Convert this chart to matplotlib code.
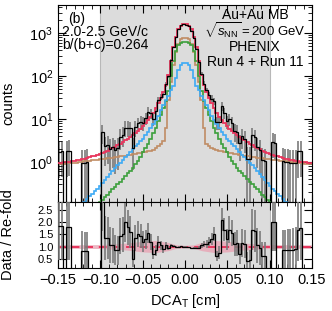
import numpy as np
import matplotlib
matplotlib.use("Agg")
import matplotlib.pyplot as plt

plt.rcParams['font.family'] = ['Liberation Sans', 'DejaVu Sans']
plt.rcParams['mathtext.fontset'] = 'custom'
plt.rcParams['mathtext.rm'] = 'Liberation Sans'
plt.rcParams['mathtext.it'] = 'Liberation Sans:italic'
plt.rcParams['mathtext.bf'] = 'Liberation Sans:bold'

# DCA_T bins: 100 bins from -0.15 to 0.15 cm
edges = np.linspace(-0.15, 0.15, 101)

# fit components (counts per bin)
green = [0.013, 0.015, 0.017, 0.019, 0.022, 0.025, 0.029, 0.033, 0.038, 0.044,
         0.05, 0.058, 0.066, 0.076, 0.087, 0.10, 0.115, 0.13, 0.15, 0.17,
         0.20, 0.23, 0.26, 0.30, 0.35, 0.40, 0.46, 0.54, 0.63, 0.74,
         0.89, 1.07, 1.32, 1.66, 2.1, 2.6, 3.4, 4.6, 6.3, 8.9,
         12.6, 17.8, 26.3, 44.7, 100, 224, 380, 520, 600, 631,
         631, 600, 520, 380, 224, 100, 44.7, 26.3, 17.8, 12.6,
         8.9, 6.3, 4.6, 3.4, 2.6, 2.1, 1.66, 1.32, 1.07, 0.89,
         0.74, 0.63, 0.54, 0.46, 0.40, 0.35, 0.30, 0.26, 0.23, 0.20,
         0.17, 0.15, 0.13, 0.115, 0.10, 0.087, 0.076, 0.066, 0.058, 0.05,
         0.044, 0.038, 0.033, 0.029, 0.025, 0.022, 0.019, 0.017, 0.015, 0.013]

blue = [0.03, 0.034, 0.039, 0.045, 0.052, 0.06, 0.069, 0.079, 0.091, 0.105,
        0.12, 0.138, 0.16, 0.18, 0.21, 0.24, 0.28, 0.32, 0.38, 0.45,
        0.52, 0.62, 0.71, 0.83, 0.95, 1.12, 1.29, 1.48, 1.74, 2.0,
        2.3, 2.6, 3.0, 3.5, 4.3, 5.1, 6.2, 7.6, 9.3, 12,
        16, 21, 28, 35, 48, 60, 89, 141, 178, 200,
        200, 178, 141, 89, 60, 48, 35, 28, 21, 16,
        12, 9.3, 7.6, 6.2, 5.1, 4.3, 3.5, 3.0, 2.6, 2.3,
        2.0, 1.74, 1.48, 1.29, 1.12, 0.95, 0.83, 0.71, 0.62, 0.52,
        0.45, 0.38, 0.32, 0.28, 0.24, 0.21, 0.18, 0.16, 0.138, 0.12,
        0.105, 0.091, 0.079, 0.069, 0.06, 0.052, 0.045, 0.039, 0.034, 0.03]

brown = [0.90, 0.91, 0.92, 0.93, 0.94, 0.95, 0.96, 0.97, 0.99, 1.01,
         1.03, 1.05, 1.07, 1.09, 1.11, 1.13, 1.15, 1.17, 1.19, 1.21,
         1.23, 1.26, 1.29, 1.32, 1.35, 1.38, 1.41, 1.45, 1.48, 1.51,
         1.55, 1.58, 1.62, 1.66, 1.74, 1.78, 1.82, 1.9, 2.1, 2.3,
         2.6, 3.0, 6.3, 28, 71, 178, 355, 562, 708, 760,
         760, 708, 562, 355, 178, 71, 28, 6.3, 2.6, 2.3,
         2.1, 2.0, 1.9, 1.82, 1.78, 1.74, 1.66, 1.62, 1.58, 1.55,
         1.51, 1.48, 1.45, 1.41, 1.38, 1.35, 1.32, 1.29, 1.26, 1.23,
         1.21, 1.19, 1.17, 1.15, 1.13, 1.11, 1.09, 1.07, 1.05, 1.03,
         1.01, 0.99, 0.97, 0.96, 0.95, 0.94, 0.93, 0.92, 0.91, 0.90]

# data / re-fold per bin
ratio = [1.85, 1.85, 0, 1.8, 1.8, 0, 0, 0, 0, 0.8,
         0.8, 0.8, 0, 0, 0, 0, 0, 3.0, 1.35, 1.35,
         1.05, 1.05, 0.85, 0.85, 1.45, 1.5, 2.0, 1.8, 1.6, 0.5,
         1.35, 1.5, 1.45, 1.2, 1.3, 1.55, 1.2, 0.7, 0.85, 1.2,
         1.05, 0.9, 1.05, 0.95, 1.05, 1.02, 0.98, 1.0, 1.01, 1.0,
         0.99, 0.97, 0.93, 0.93, 0.93, 0.96, 1.05, 1.1, 1.12, 1.2,
         1.3, 1.5, 0.6, 0.75, 2.1, 1.7, 1.3, 1.7, 1.55, 1.1,
         1.15, 0.7, 1.15, 1.1, 0.4, 0.45, 1.7, 1.65, 1.05, 0.95,
         0.6, 0.6, 0, 0, 2.0, 2.0, 0, 0, 0.85, 0.85,
         0.85, 0.85, 0.87, 0.9, 1.7, 1.75, 0, 0, 0, 0]

# systematic band of the re-fold
band_x = [-0.15, -0.1, -0.07, -0.05, -0.035, -0.02, -0.01, 0.0,
          0.01, 0.02, 0.035, 0.05, 0.07, 0.1, 0.15]
band_half = [0.07, 0.08, 0.14, 0.22, 0.25, 0.17, 0.07, 0.05,
             0.07, 0.17, 0.25, 0.22, 0.14, 0.08, 0.07]

green = np.array(green)
blue = np.array(blue)
brown = np.array(brown)
ratio = np.array(ratio)

refold = green + blue + brown
counts = ratio * refold
err = np.sqrt(counts)
centers = 0.5 * (edges[:-1] + edges[1:])
nz = counts > 0

c_red = "#e8365d"
c_green = "#3c9f3c"
c_blue = "#3daaf5"
c_brown = "#c08c64"
c_err = "#7a7a7a"
c_shade = "#dcdcdc"

fig = plt.figure(figsize=(3.32, 3.11), dpi=100)
ax = fig.add_axes([0.1747, 0.3505, 0.7651, 0.6335])
axr = fig.add_axes([0.1747, 0.1383, 0.7651, 0.2122], sharex=ax)

for a in (ax, axr):
    a.axvspan(-0.1, 0.1, color=c_shade, zorder=0, lw=0)
    a.axvline(-0.1, color="#b8b8b8", lw=0.8, zorder=0.5)
    a.axvline(0.1, color="#b8b8b8", lw=0.8, zorder=0.5)

# top panel
lo = np.maximum(counts - err, 1e-3)
hi = counts + err
ax.vlines(centers[nz], lo[nz], hi[nz], color=c_err, lw=1.2, zorder=1)
ax.stairs(brown, edges, color=c_brown, lw=1.2, baseline=None, zorder=2)
ax.stairs(green, edges, color=c_green, lw=1.2, baseline=None, zorder=2)
ax.stairs(blue, edges, color=c_blue, lw=1.2, baseline=None, zorder=2)
ax.stairs(refold, edges, color=c_red, lw=1.3, baseline=None, zorder=3)
ax.stairs(np.where(nz, counts, 1e-3), edges, color="k", lw=0.9,
          baseline=None, zorder=4)
ax.set_yscale("log")
ax.set_ylim(0.117, 4500)
ax.set_xlim(-0.15, 0.15)
ax.set_ylabel("counts", fontsize=10.5)
ax.yaxis.set_label_coords(-0.169, 0.5)
ax.tick_params(labelbottom=False)

fs = 10
ax.text(0.039, 0.93, "(b)", transform=ax.transAxes, fontsize=fs, va="center")
ax.text(0.016, 0.863, "2.0-2.5 GeV/c", transform=ax.transAxes, fontsize=fs, va="center")
ax.text(0.016, 0.795, "b/(b+c)=0.264", transform=ax.transAxes, fontsize=fs, va="center")
ax.text(0.776, 0.948, "Au+Au MB", transform=ax.transAxes, fontsize=fs, ha="center", va="center")
ax.text(0.776, 0.866, r"$\sqrt{s_{\mathrm{NN}}}=200$ GeV", transform=ax.transAxes,
        fontsize=9.5, ha="center", va="center")
ax.text(0.776, 0.786, "PHENIX", transform=ax.transAxes, fontsize=fs, ha="center", va="center")
ax.text(0.776, 0.71, "Run 4 + Run 11", transform=ax.transAxes, fontsize=fs, ha="center", va="center")

# ratio panel
rerr = err / refold
axr.fill_between(band_x, 1 - np.array(band_half), 1 + np.array(band_half),
                 color="#e9a4b4", alpha=0.8, lw=0, zorder=1)
axr.axhline(1.0, color=c_red, lw=1.4, ls=(0, (4, 3)), zorder=2)
axr.vlines(centers[nz], np.maximum(ratio - rerr, 0)[nz], (ratio + rerr)[nz],
           color=c_err, lw=1.2, zorder=3)
axr.stairs(ratio, edges, color="k", lw=0.9, baseline=None, zorder=4)
axr.set_ylim(0.12, 2.83)
axr.set_yticks([0.5, 1.0, 1.5, 2.0, 2.5])
axr.set_yticklabels(["0.5", "1.0", "1.5", "2.0", "2.5"], fontsize=8)
axr.set_xticks([-0.15, -0.1, -0.05, 0.0, 0.05, 0.1, 0.15])
axr.set_xticklabels(["\u22120.15", "\u22120.10", "\u22120.05", "0.00", "0.05", "0.10", "0.15"])
axr.set_xticks(np.arange(-0.15, 0.151, 0.01), minor=True)
axr.set_ylabel("Data / Re-fold", fontsize=10.5)
axr.yaxis.set_label_coords(-0.169, 0.5)
axr.set_xlabel(r"DCA$_{\mathrm{T}}$ [cm]", fontsize=10.5)
axr.xaxis.set_label_coords(0.5, -0.36)

for a in (ax, axr):
    a.tick_params(which="both", direction="in", top=True, right=True, labelsize=10.5)
    a.tick_params(which="major", length=6)
    a.tick_params(which="minor", length=3)
axr.tick_params(axis="y", labelsize=8)

fig.savefig("out.png", dpi=100)
